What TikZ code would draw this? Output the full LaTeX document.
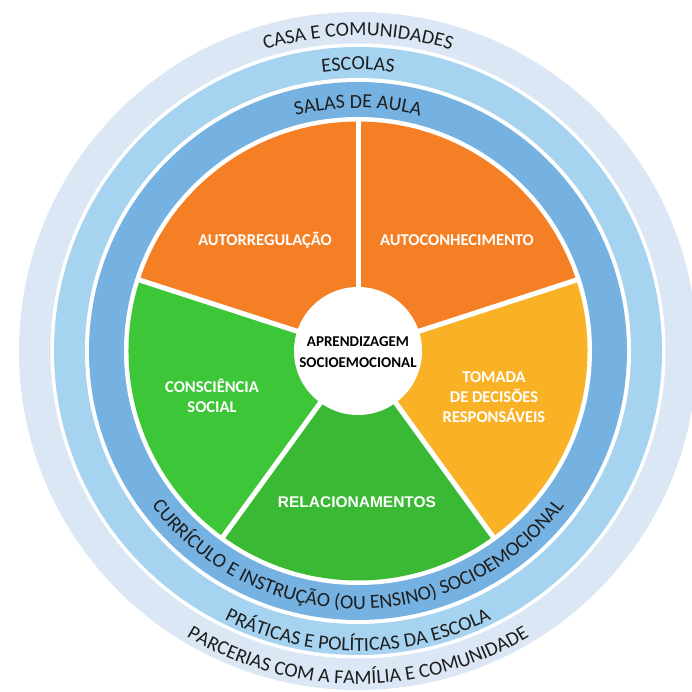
\documentclass[tikz,border=0pt]{standalone}
\usepackage{fontspec}
\setmainfont{Carlito}
\newfontfamily\arialfam{Liberation Sans}
\usetikzlibrary{decorations.text}
\definecolor{ringA}{RGB}{219,231,245}
\definecolor{ringB}{RGB}{166,211,239}
\definecolor{ringC}{RGB}{117,178,225}
\definecolor{orangeA}{RGB}{244,127,36}
\definecolor{yellowA}{RGB}{249,177,38}
\definecolor{greenA}{RGB}{60,198,56}
\definecolor{greenB}{RGB}{58,186,52}
\definecolor{ringtextcol}{RGB}{30,30,30}
\def\ringfont{\fontsize{20}{24}\selectfont}
\tikzset{
  sectorlabel/.style={text=white, font=\bfseries\fontsize{16.5}{20}\selectfont, align=center, inner sep=0pt},
  centerlabel/.style={text=black, font=\bfseries\fontsize{15}{21}\selectfont, align=center, inner sep=0pt},
  ringtext/.style={decorate, decoration={text along path, text align=center, text color=ringtextcol}},
  separator/.style={draw=white, line width=5pt},
}
\begin{document}
\begin{tikzpicture}[x=1pt,y=1pt]
\useasboundingbox (-358,-341) rectangle (334,351);
% rings
\fill[ringA] (0,0) circle[radius=339];
\fill[white] (0,0) circle[radius=307.5];
\fill[ringB] (0,0) circle[radius=304];
\fill[white] (0,0) circle[radius=273];
\fill[ringC] (0,0) circle[radius=269];
\fill[white] (0,0) circle[radius=234];
% sectors
\fill[orangeA] (0,0) -- (90:229.5) arc[start angle=90,end angle=162,radius=229.5] -- cycle;
\fill[orangeA] (0,0) -- (18:229.5) arc[start angle=18,end angle=90,radius=229.5] -- cycle;
\fill[yellowA] (0,0) -- (-54:229.5) arc[start angle=-54,end angle=18,radius=229.5] -- cycle;
\fill[greenB] (0,0) -- (234:229.5) arc[start angle=234,end angle=306,radius=229.5] -- cycle;
\fill[greenA] (0,0) -- (162:229.5) arc[start angle=162,end angle=234,radius=229.5] -- cycle;
\foreach \a in {18,90,162,234,306} \draw[separator] (0,0) -- (\a:232);
\fill[white] (0,0) circle[radius=64];
% sector labels
\node[sectorlabel] (autoreg) at (-93,111) {AUTORREGULAÇÃO};
\node[sectorlabel] (autocon) at (99,111) {AUTOCONHECIMENTO};
\node[sectorlabel] (tomada) at (136,-46) {TOMADA\\DE DECISÕES\\RESPONSÁVEIS};
\node[sectorlabel] (consc) at (-146,-45) {CONSCIÊNCIA\\SOCIAL};
\node[sectorlabel, font=\arialfam\bfseries\fontsize{15.5}{19}\selectfont] (relac) at (-1,-151) {RELACIONAMENTOS};
\node[centerlabel] (center) at (0,-1) {APRENDIZAGEM\\SOCIOEMOCIONAL};
% ring texts (top)
\path[ringtext, decoration={text={|\ringfont|CASA E COMUNIDADES}}]
  (150:315) arc[start angle=150,end angle=30,radius=315];
\path[ringtext, decoration={text={|\ringfont|ESCOLAS}}]
  (150:281) arc[start angle=150,end angle=30,radius=281];
\path[ringtext, decoration={text={|\ringfont|SALAS DE AULA}}]
  (150:243) arc[start angle=150,end angle=30,radius=243];
% ring texts (bottom)
\path[ringtext, decoration={text={|\ringfont|CURRÍCULO E INSTRUÇÃO (OU ENSINO) SOCIOEMOCIONAL}}]
  (200:258) arc[start angle=200,end angle=340,radius=258];
\path[ringtext, decoration={text={|\ringfont|PRÁTICAS E POLÍTICAS DA ESCOLA}}]
  (200:300) arc[start angle=200,end angle=340,radius=300];
\path[ringtext, decoration={text={|\ringfont|PARCERIAS COM A FAMÍLIA E COMUNIDADE}}]
  (200:333) arc[start angle=200,end angle=340,radius=333];
\end{tikzpicture}
\end{document}
